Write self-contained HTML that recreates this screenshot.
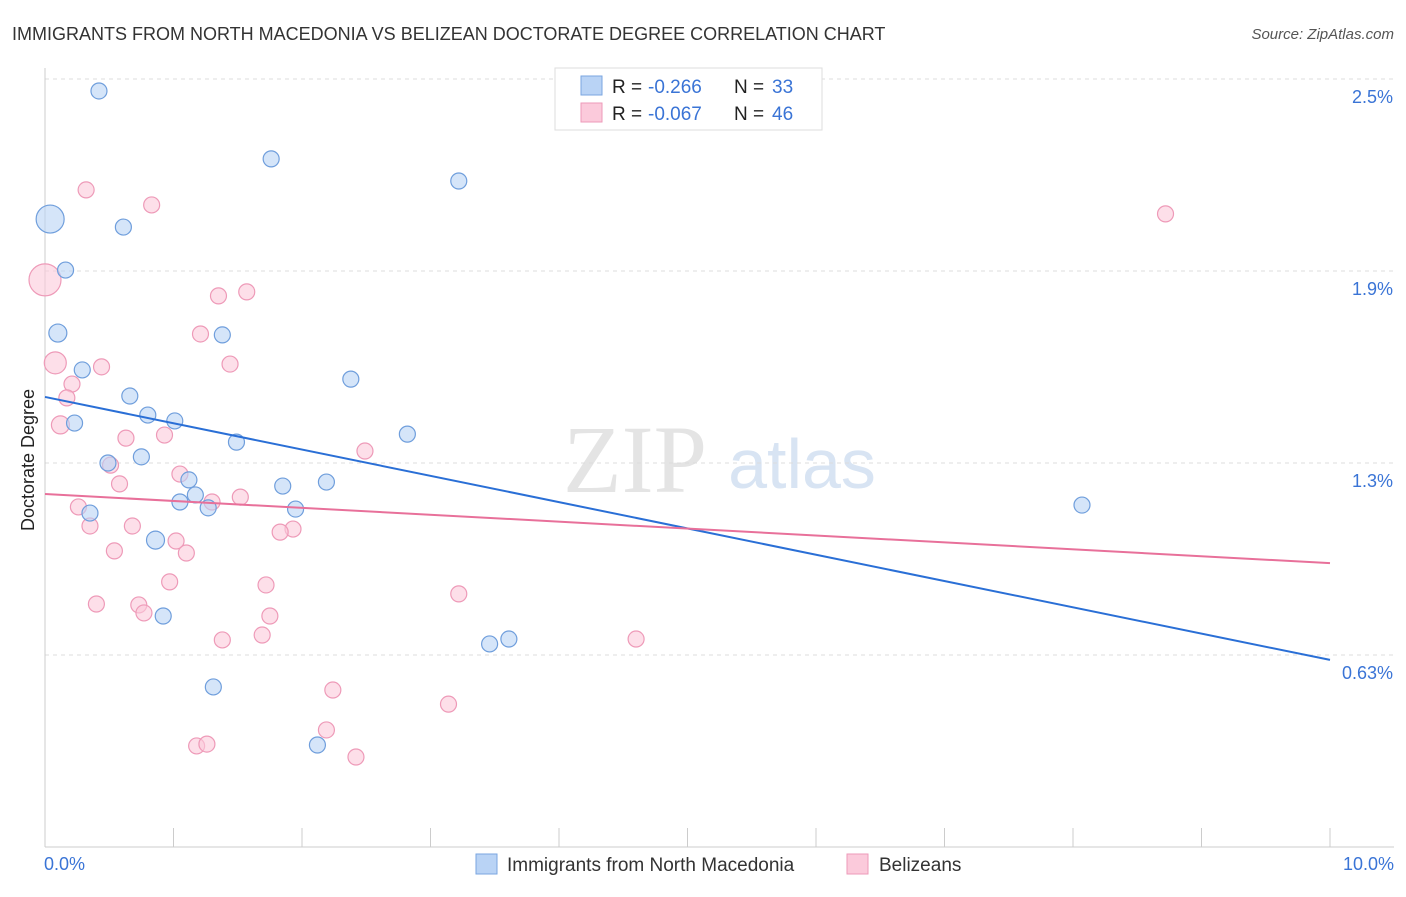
<!DOCTYPE html>
<html><head><meta charset="utf-8"><style>
body{margin:0;background:#fff;font-family:"Liberation Sans",sans-serif;}
</style></head><body>
<svg id="chart" width="1406" height="892" xmlns="http://www.w3.org/2000/svg">
<text x="12" y="40" font-size="18" fill="#333">IMMIGRANTS FROM NORTH MACEDONIA VS BELIZEAN DOCTORATE DEGREE CORRELATION CHART</text>
<text x="1394" y="39" font-size="15" fill="#555" font-style="italic" text-anchor="end">Source: ZipAtlas.com</text>
<g>
<text x="635" y="492" font-size="96" fill="#e4e4e4" font-family="Liberation Serif" text-anchor="middle">ZIP</text>
<text x="802" y="488" font-size="70" fill="#d8e4f3" text-anchor="middle">atlas</text>
</g>
<g id="grid"></g><g id="axes"></g><g id="points"></g><g id="lines"></g>
<text x="34" y="460" font-size="18" fill="#222" text-anchor="middle" transform="rotate(-90 34 460)">Doctorate Degree</text>
<g>
<rect x="555" y="68" width="267" height="62" fill="#fff" stroke="#ddd"/>
<rect x="581" y="76" width="21" height="19" fill="#b9d3f5" stroke="#7aa6e0"/>
<rect x="581" y="103" width="21" height="19" fill="#fbcadb" stroke="#ee9ab8"/>
<text x="612" y="93" font-size="19" fill="#222">R =</text>
<text x="648" y="93" font-size="19" fill="#3a74d6">-0.266</text>
<text x="734" y="93" font-size="19" fill="#222">N =</text>
<text x="772" y="93" font-size="19" fill="#3a74d6">33</text>
<text x="612" y="120" font-size="19" fill="#222">R =</text>
<text x="648" y="120" font-size="19" fill="#3a74d6">-0.067</text>
<text x="734" y="120" font-size="19" fill="#222">N =</text>
<text x="772" y="120" font-size="19" fill="#3a74d6">46</text>
</g>
<g>
<rect x="476" y="854" width="21" height="20" fill="#b9d3f5" stroke="#7aa6e0"/>
<text x="507" y="871" font-size="19" fill="#333">Immigrants from North Macedonia</text>
<rect x="847" y="854" width="21" height="20" fill="#fbcadb" stroke="#ee9ab8"/>
<text x="879" y="871" font-size="19" fill="#333">Belizeans</text>
</g>
</svg>
<script>
const yTicks=[0.625,1.25,1.875,2.5];
const yTickLabels=["0.63%","1.3%","1.9%","2.5%"];
const xTickLabels=["0.0%","10.0%"];
const blueX=[0.42,1.76,3.22,0.04,0.61,0.16,0.10,1.38,0.29,2.38,0.66,0.80,0.23,1.01,2.82,1.49,0.75,0.49,1.12,1.85,2.19,1.17,1.05,1.27,1.95,0.35,0.86,8.07,0.92,3.61,3.46,1.31,2.12];
const blueY=[2.461,2.240,2.168,2.044,2.018,1.878,1.673,1.667,1.553,1.523,1.468,1.406,1.380,1.387,1.344,1.318,1.270,1.250,1.195,1.175,1.188,1.146,1.123,1.104,1.100,1.087,0.999,1.113,0.752,0.677,0.661,0.521,0.332];
const blueR=[8,8,8,14,8,8,9,8,8,8,8,8,8,8,8,8,8,8,8,8,8,8,8,8,8,8,9,8,8,8,8,8,8];
const pinkX=[0.32,0.83,8.72,0.0,1.35,1.57,1.21,0.08,1.44,0.44,0.21,0.17,0.12,0.63,0.93,2.49,0.51,1.05,0.58,1.52,1.30,0.26,0.68,0.35,1.93,1.83,1.02,1.10,0.54,0.97,1.72,3.22,0.40,0.73,0.77,1.75,4.60,1.38,1.69,2.24,3.14,2.19,1.18,1.26,2.42];
const pinkY=[2.139,2.090,2.061,1.846,1.794,1.807,1.670,1.576,1.572,1.563,1.507,1.462,1.374,1.331,1.341,1.289,1.243,1.214,1.182,1.139,1.123,1.107,1.045,1.045,1.035,1.025,0.996,0.957,0.964,0.863,0.853,0.824,0.791,0.788,0.762,0.752,0.677,0.674,0.690,0.511,0.465,0.381,0.329,0.335,0.293];
const pinkR=[8,8,8,16,8,8,8,11,8,8,8,8,9,8,8,8,8,8,8,8,8,8,8,8,8,8,8,8,8,8,8,8,8,8,8,8,8,8,8,8,8,8,8,8,8];
const blueLine=[1.465,0.609];
const pinkLine=[1.149,0.924];
const NS="http://www.w3.org/2000/svg";
const X0=45,X1=1330,Y0=847,Y1=79;
const xs=v=>X0+(v/10)*(X1-X0);
const ys=v=>Y0-(v/2.5)*(Y0-Y1);
function mk(t,a,p){const e=document.createElementNS(NS,t);for(const k in a)e.setAttribute(k,a[k]);document.getElementById(p).appendChild(e);return e;}
yTicks.forEach((t,i)=>{
 const l=mk('line',{x1:X0,x2:1394,y1:ys(t),y2:ys(t),stroke:'#ddd','stroke-dasharray':'4 4'},'grid');
 
 
 const tx=mk('text',{x:1393,y:ys(t)+24,'font-size':18,fill:'#3a74d6','text-anchor':'end'},'axes');
 tx.textContent=yTickLabels[i];
 
 
});
const ax=mk('line',{x1:X0,x2:X0,y1:68,y2:847,stroke:'#ccc'},'axes');


const bx=mk('line',{x1:X0,x2:1394,y1:847,y2:847,stroke:'#ccc'},'axes');


for(let i=1;i<=10;i++){
 const tk=mk('line',{x1:xs(i),x2:xs(i),y1:828,y2:847,stroke:'#ccc'},'axes');
 
 
}
[[0,44,'start'],[10,1394,'end']].forEach((d,i)=>{
 const t=mk('text',{x:d[1],y:870,'font-size':18,fill:'#3a74d6','text-anchor':d[2]},'axes');
 t.textContent=xTickLabels[i];
 
 
});
function pts(X,Y,R,fill,stroke,name){
 X.forEach((v,i)=>{
  const c=mk('circle',{cx:xs(v),cy:ys(Y[i]),r:R[i],fill:fill,stroke:stroke,'stroke-width':1.2,'fill-opacity':0.6},'points');
  
  
 });
}
pts(pinkX,pinkY,pinkR,'#fbcadb','#ee9ab8','point-belizeans');
pts(blueX,blueY,blueR,'#b9d3f5','#6f9edc','point-macedonia');
const bl=mk('line',{x1:xs(0),x2:xs(10),y1:ys(blueLine[0]),y2:ys(blueLine[1]),stroke:'#2a6fd6','stroke-width':2},'lines');


const pl=mk('line',{x1:xs(0),x2:xs(10),y1:ys(pinkLine[0]),y2:ys(pinkLine[1]),stroke:'#e8709a','stroke-width':2},'lines');


</script>
</body></html>
